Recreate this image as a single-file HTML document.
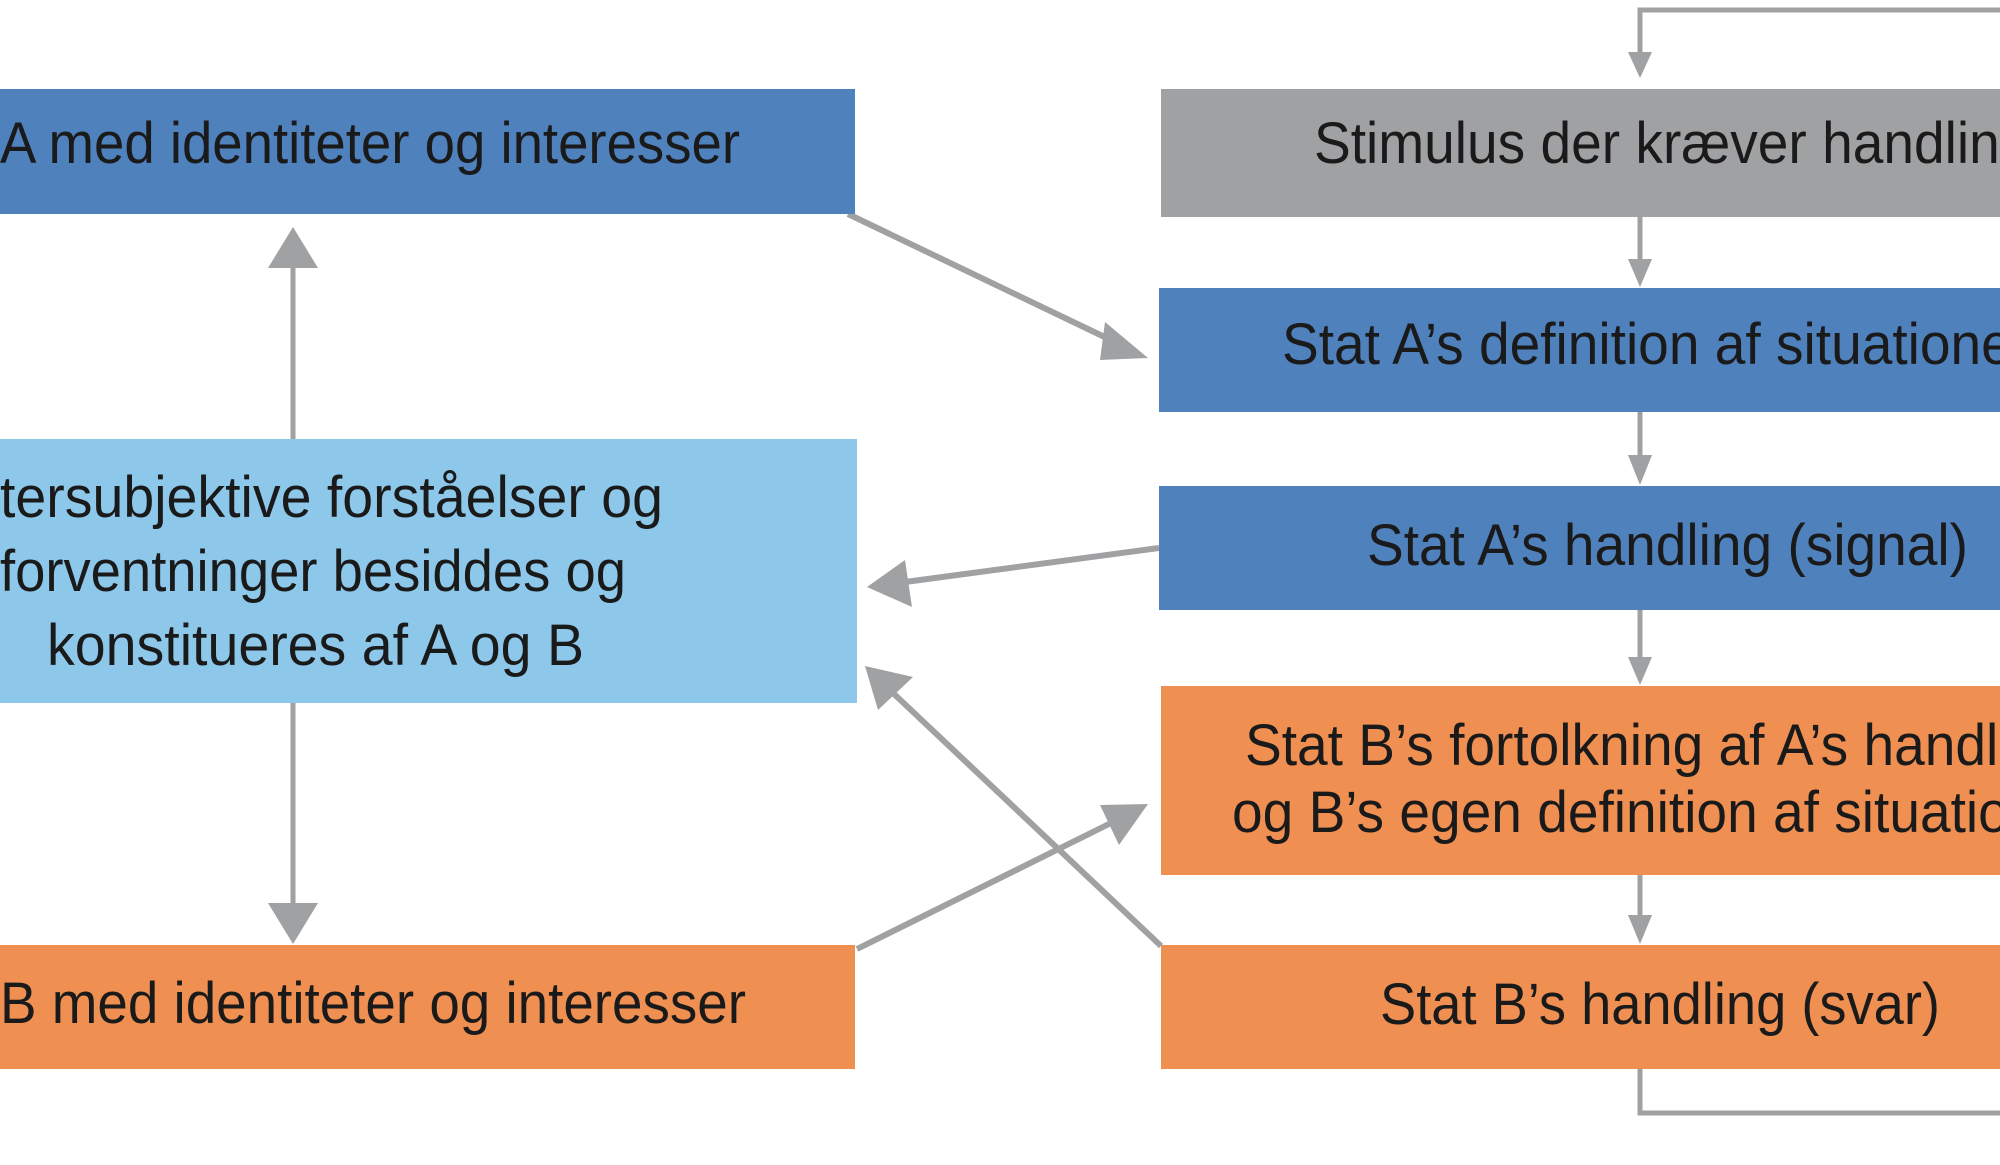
<!DOCTYPE html>
<html><head><meta charset="utf-8"><style>
html,body{margin:0;padding:0;background:#fff;}
svg{display:block;}
text{font-family:"Liberation Sans Narrow","Liberation Sans",sans-serif;fill:#1a1a1a;font-size:58px;}
</style></head><body>
<svg width="2000" height="1165" viewBox="0 0 2000 1165" xmlns="http://www.w3.org/2000/svg">
<g fill="none" stroke="#a0a1a3" stroke-width="5">
<polyline points="2000,10 1640,10 1640,55"/>
<line x1="1640" y1="217" x2="1640" y2="262"/>
<line x1="1640" y1="412" x2="1640" y2="458"/>
<line x1="1640" y1="610" x2="1640" y2="660"/>
<line x1="1640" y1="875" x2="1640" y2="918"/>
<polyline points="1640,1069 1640,1113 2000,1113"/>
<line x1="293" y1="439" x2="293" y2="265"/>
<line x1="293" y1="703" x2="293" y2="905"/>
<line x1="848" y1="214" x2="1115" y2="342" stroke-width="6"/>
<line x1="1159" y1="548" x2="905" y2="582" stroke-width="6"/>
<line x1="1161" y1="946" x2="893" y2="693" stroke-width="6"/>
<line x1="857" y1="949" x2="1115" y2="821" stroke-width="6"/>
</g>
<g fill="#a0a1a3">
<path d="M1628,52 L1652,52 L1640,78 z"/>
<path d="M1628,259 L1652,259 L1640,287 z"/>
<path d="M1628,455 L1652,455 L1640,485 z"/>
<path d="M1628,657 L1652,657 L1640,685 z"/>
<path d="M1628,915 L1652,915 L1640,944 z"/>
<path d="M293,227 L268,268 L318,268 z"/>
<path d="M293,944 L268,903 L318,903 z"/>
<path d="M1148,358 L1105,322 L1100,360 z"/>
<path d="M867,587 L905,560 L912,607 z"/>
<path d="M865,666 L913,677 L878,710 z"/>
<path d="M1148,804 L1100,805 L1119,845 z"/>
</g>
<rect x="0" y="89" width="855" height="125" fill="#4f81bd"/>
<rect x="1161" y="89" width="839" height="128" fill="#a0a1a3"/>
<rect x="1159" y="288" width="841" height="124" fill="#4f81bd"/>
<rect x="1159" y="486" width="841" height="124" fill="#4f81bd"/>
<rect x="0" y="439" width="857" height="264" fill="#8dc8eb"/>
<rect x="1161" y="686" width="839" height="189" fill="#ef9052"/>
<rect x="0" y="945" width="855" height="124" fill="#ef9052"/>
<rect x="1161" y="945" width="839" height="124" fill="#ef9052"/>
<text x="0" y="163" textLength="740" lengthAdjust="spacingAndGlyphs">A med identiteter og interesser</text>
<text transform="translate(1314,163) scale(0.95,1)" x="0" y="0">Stimulus der kræver handling</text>
<text transform="translate(1282,364) scale(0.95,1)" x="0" y="0">Stat A’s definition af situationen</text>
<text x="1367" y="565" textLength="601" lengthAdjust="spacingAndGlyphs">Stat A’s handling (signal)</text>
<text x="0" y="517" textLength="663" lengthAdjust="spacingAndGlyphs">tersubjektive forståelser og</text>
<text x="0" y="591" textLength="626" lengthAdjust="spacingAndGlyphs">forventninger besiddes og</text>
<text x="47" y="665" textLength="537" lengthAdjust="spacingAndGlyphs">konstitueres af A og B</text>
<text transform="translate(1245,765) scale(0.95,1)" x="0" y="0">Stat B’s fortolkning af A’s handling</text>
<text transform="translate(1232,832) scale(0.95,1)" x="0" y="0">og B’s egen definition af situationen</text>
<text x="0" y="1023" textLength="746" lengthAdjust="spacingAndGlyphs">B med identiteter og interesser</text>
<text x="1380" y="1024" textLength="560" lengthAdjust="spacingAndGlyphs">Stat B’s handling (svar)</text>
</svg>
</body></html>
